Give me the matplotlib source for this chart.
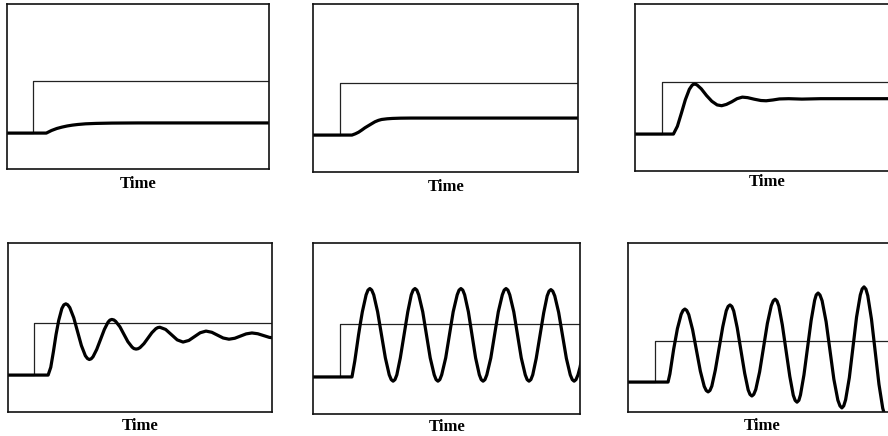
import matplotlib.pyplot as plt

# step input (same for every panel), time in tenths of the panel width
step_t = [0, 1.0, 1.0, 10.5]
step_y = [0, 0, 1, 1]

# responses (baseline = 0, step height = 1)
resp1_t = [0, 1.5, 1.7, 1.9, 2.1, 2.3, 2.5, 2.7, 3.0, 3.4, 4.0, 5.0, 10]
resp1_y = [0, 0, 0.05, 0.088, 0.115, 0.137, 0.153, 0.165, 0.178, 0.186, 0.192, 0.195, 0.195]

resp2_t = [0, 1.47, 1.6, 1.72, 1.84, 1.96, 2.09, 2.22, 2.34, 2.47, 2.59, 2.8, 3.0, 3.3, 3.7, 4.5, 10]
resp2_y = [0, 0, 0.025, 0.055, 0.096, 0.14, 0.18, 0.22, 0.256, 0.283, 0.30, 0.313, 0.32, 0.325, 0.327, 0.327, 0.327]

resp3_t = [0, 1.45, 1.6, 1.75, 1.9, 2.05, 2.15, 2.2, 2.25, 2.3, 2.35, 2.5, 2.7, 2.9, 3.1, 3.27, 3.45, 3.65,
           3.85, 4.05, 4.25, 4.5, 4.75, 4.95, 5.2, 5.45, 5.8, 6.3, 7.0, 10.5]
resp3_y = [0, 0, 0.15, 0.40, 0.66, 0.86, 0.935, 0.955, 0.96, 0.955, 0.94, 0.87, 0.74, 0.63, 0.56, 0.545, 0.57, 0.62,
           0.68, 0.71, 0.70, 0.67, 0.645, 0.64, 0.655, 0.675, 0.68, 0.672, 0.68, 0.68]

resp4_t = [0, 1.52, 1.62, 1.72, 1.82, 1.92, 2.04, 2.115,
           2.19, 2.26, 2.34, 2.49, 2.635, 2.78, 2.93, 3.01,
           3.08, 3.15, 3.22, 3.36, 3.505, 3.65, 3.79, 3.86,
           3.93, 4.01, 4.08, 4.24, 4.39, 4.54, 4.70, 4.77,
           4.85, 4.925, 5.0, 5.15, 5.3, 5.45, 5.6, 5.675,
           5.75, 5.97, 6.19, 6.41, 6.63, 6.85, 7.065, 7.28, 7.5, 7.72, 7.935, 8.15,
           8.37, 8.59, 8.805, 9.02, 9.24, 9.46, 9.68, 9.9, 10.1]
resp4_y = [0, 0, 0.15, 0.45, 0.78, 1.05, 1.28, 1.35,
           1.37, 1.352, 1.298, 1.103, 0.835, 0.568, 0.372, 0.318,
           0.30, 0.313, 0.352, 0.493, 0.685, 0.878, 1.018, 1.057,
           1.07, 1.06, 1.032, 0.928, 0.785, 0.643, 0.538, 0.51,
           0.50, 0.507, 0.528, 0.605, 0.71, 0.815, 0.892, 0.913,
           0.92, 0.878, 0.778, 0.677, 0.635, 0.666, 0.74, 0.814, 0.846, 0.823, 0.768, 0.713,
           0.69, 0.708, 0.75, 0.792, 0.81, 0.795, 0.76, 0.725, 0.712]

resp5_t = [0, 1.46, 1.565, 1.706, 1.777, 1.848, 1.989, 2.06,
           2.13, 2.20, 2.275, 2.42, 2.565, 2.71, 2.855, 2.93,
           3.00, 3.07, 3.14, 3.27, 3.41, 3.55, 3.68, 3.75,
           3.82, 3.89, 3.96, 4.11, 4.25, 4.39, 4.54, 4.61,
           4.68, 4.75, 4.82, 4.97, 5.11, 5.25, 5.40, 5.47,
           5.54, 5.61, 5.68, 5.82, 5.955, 6.09, 6.23, 6.30,
           6.37, 6.44, 6.51, 6.66, 6.80, 6.94, 7.09, 7.16,
           7.23, 7.30, 7.37, 7.52, 7.66, 7.80, 7.95, 8.02,
           8.09, 8.16, 8.23, 8.36, 8.50, 8.64, 8.77, 8.84,
           8.91, 8.98, 9.055, 9.20, 9.345, 9.49, 9.635, 9.71,
           9.78, 9.85, 9.925, 10.0, 10.07]
resp5_y = [0, 0, 0.30, 0.795, 1.02, 1.23, 1.55, 1.64,
           1.67, 1.64, 1.55, 1.23, 0.795, 0.36, 0.04, -0.05,
           -0.08, -0.05, 0.04, 0.36, 0.795, 1.23, 1.55, 1.64,
           1.67, 1.64, 1.55, 1.23, 0.795, 0.36, 0.04, -0.05,
           -0.08, -0.05, 0.04, 0.36, 0.795, 1.23, 1.55, 1.64,
           1.67, 1.64, 1.55, 1.23, 0.795, 0.36, 0.04, -0.05,
           -0.08, -0.05, 0.04, 0.36, 0.795, 1.23, 1.55, 1.64,
           1.67, 1.64, 1.55, 1.23, 0.795, 0.36, 0.04, -0.05,
           -0.08, -0.05, 0.04, 0.35, 0.78, 1.21, 1.53, 1.62,
           1.65, 1.62, 1.53, 1.22, 0.785, 0.35, 0.04, -0.05,
           -0.08, -0.05, 0.04, 0.18, 0.36]

resp6_t = [0, 1.5, 1.57, 1.64, 1.71, 1.78, 1.85, 1.99, 2.06,
           2.13, 2.20, 2.275, 2.42, 2.565, 2.71, 2.855, 2.93,
           3.00, 3.07, 3.14, 3.27, 3.41, 3.55, 3.68, 3.75,
           3.82, 3.89, 3.96, 4.09, 4.23, 4.37, 4.50, 4.57,
           4.64, 4.71, 4.785, 4.93, 5.075, 5.22, 5.365, 5.44,
           5.51, 5.58, 5.65, 5.78, 5.92, 6.06, 6.19, 6.26,
           6.33, 6.40, 6.46, 6.59, 6.725, 6.86, 6.99, 7.05,
           7.12, 7.19, 7.27, 7.42, 7.565, 7.71, 7.86, 7.94,
           8.01, 8.08, 8.15, 8.29, 8.425, 8.56, 8.70, 8.77,
           8.84, 8.91, 8.98, 9.12, 9.26, 9.40, 9.54, 9.61, 9.68]
resp6_y = [0, 0, 0.2, 0.5, 0.8, 1.05, 1.30, 1.65, 1.745,
           1.78, 1.746, 1.645, 1.275, 0.77, 0.265, -0.105, -0.206,
           -0.24, -0.204, -0.098, 0.29, 0.82, 1.35, 1.738, 1.844,
           1.88, 1.842, 1.731, 1.325, 0.77, 0.215, -0.191, -0.302,
           -0.34, -0.30, -0.182, 0.25, 0.84, 1.43, 1.862, 1.98,
           2.02, 1.977, 1.852, 1.393, 0.765, 0.138, -0.322, -0.447,
           -0.49, -0.445, -0.312, 0.175, 0.84, 1.505, 1.992, 2.125,
           2.17, 2.122, 1.982, 1.47, 0.77, 0.07, -0.442, -0.582,
           -0.63, -0.58, -0.432, 0.108, 0.845, 1.583, 2.122, 2.27,
           2.32, 2.266, 2.108, 1.528, 0.735, -0.058, -0.638, -0.796, -0.85]

responses = [(resp1_t, resp1_y), (resp2_t, resp2_y), (resp3_t, resp3_y),
             (resp4_t, resp4_y), (resp5_t, resp5_y), (resp6_t, resp6_y)]

# panel boxes in pixels: left, right, top, bottom ; y limits ; label centre
W, H = 888, 436
boxes = [(7, 269, 4, 169), (313, 578, 4, 172), (635, 900, 4, 171),
         (8, 272, 243, 412), (313, 580, 243, 414), (628, 895, 243, 412)]
ylims = [(-0.69, 2.48), (-0.71, 2.52), (-0.71, 2.5),
         (-0.71, 2.54), (-0.70, 2.53), (-0.73, 3.39)]
label_pos = [(138, 184), (446, 187), (767, 182), (140, 426), (447, 427), (762, 426)]

fig = plt.figure(figsize=(W / 100, H / 100), dpi=100)

for i in range(6):
    l, r, t, b = boxes[i]
    ax = fig.add_axes([l / W, 1 - b / H, (r - l) / W, (b - t) / H])
    ax.plot(step_t, step_y, color='#222222', lw=0.9)
    rt, ry = responses[i]
    ax.plot(rt, ry, color='black', lw=2.3, solid_joinstyle='round')
    ax.set_xlim(0, 10)
    ax.set_ylim(*ylims[i])
    ax.set_xticks([])
    ax.set_yticks([])
    for s in ax.spines.values():
        s.set_linewidth(1.2)
        s.set_color('#111111')
    lx, ly = label_pos[i]
    fig.text(lx / W, 1 - ly / H, 'Time', ha='center', va='center',
             family='Liberation Serif', fontweight='bold', fontsize=12)

fig.savefig('out.png', dpi=100)
